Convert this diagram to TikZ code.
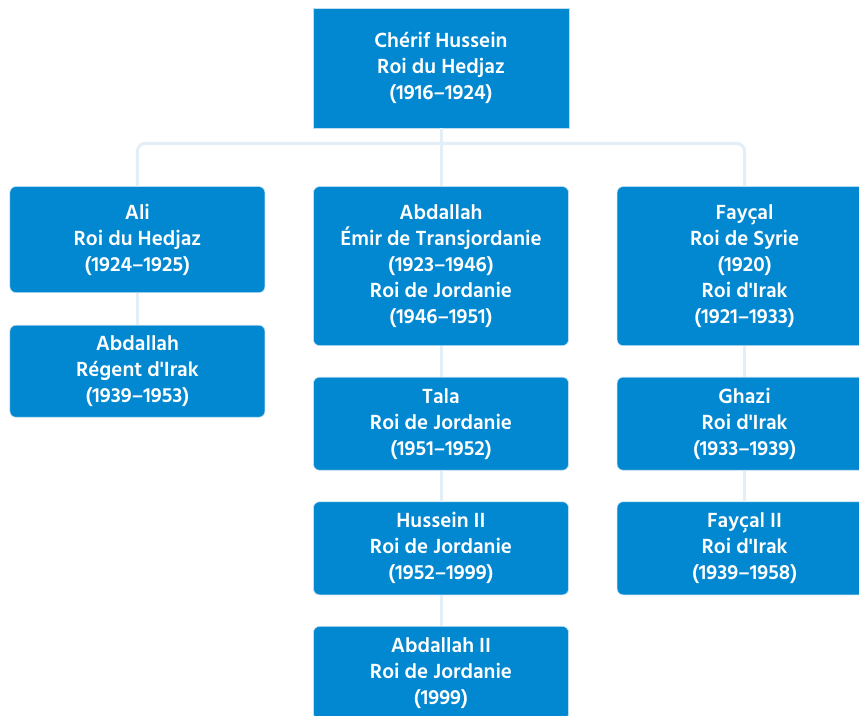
\documentclass[tikz,border=0pt]{standalone}
\usepackage{fontspec}
\setmainfont{Hind Siliguri}
\usetikzlibrary{positioning}

\definecolor{bleuboite}{HTML}{0288D1}
\definecolor{bordboite}{HTML}{BFDDF0}
\definecolor{bleulien}{HTML}{E4EEF7}

\begin{document}
\begin{tikzpicture}[x=1pt, y=-1pt,
		node distance=31pt and 48pt,
		famille/.style={rectangle, rounded corners=6pt, fill=bleuboite, draw=bordboite, line width=0.6pt,
			text=white, align=center, font=\fontsize{21}{26}\selectfont\bfseries,
			minimum width=255pt, inner sep=0pt},
		lien/.style={draw=bleulien, line width=3pt}]
		\clip (0,0) rectangle (859,715);
		\fill[white] (0,0) rectangle (859,715);

		% Fondateur
		\node[famille, rounded corners=0pt, minimum width=256pt, minimum height=120pt] (hussein) at (441,68)
			{Chérif Hussein\\Roi du Hedjaz\\(1916--1924)};

		% Fils (branche centrale)
		\node[famille, minimum height=159pt, below=58pt of hussein] (abdallah) {Abdallah\\Émir de Transjordanie\\(1923--1946)\\Roi de Jordanie\\(1946--1951)};
		\node[famille, minimum height=93pt, below=of abdallah] (tala) {Tala\\Roi de Jordanie\\(1951--1952)};
		\node[famille, minimum height=93pt, below=of tala] (husseinII) {Hussein II\\Roi de Jordanie\\(1952--1999)};
		\node[famille, minimum height=93pt, below=of husseinII] (abdallahII) {Abdallah II\\Roi de Jordanie\\(1999)};

		% Branche gauche
		\node[famille, minimum height=106pt, left=of abdallah.north west, anchor=north east] (ali) {Ali\\Roi du Hedjaz\\(1924--1925)};
		\node[famille, minimum height=92pt, below=32pt of ali] (regent) {Abdallah\\Régent d\textquotesingle Irak\\(1939--1953)};

		% Branche droite
		\node[famille, minimum height=159pt, right=of abdallah] (faycal) {Fayçal\\Roi de Syrie\\(1920)\\Roi d\textquotesingle Irak\\(1921--1933)};
		\node[famille, minimum height=93pt, below=of faycal] (ghazi) {Ghazi\\Roi d\textquotesingle Irak\\(1933--1939)};
		\node[famille, minimum height=93pt, below=of ghazi] (faycalII) {Fayçal II\\Roi d\textquotesingle Irak\\(1939--1958)};

		% Liens
		\coordinate (jonction) at ([yshift=-15pt]hussein.south);
		\draw[lien] (hussein.south) -- (abdallah.north);
		\draw[lien, rounded corners=8pt] (ali.north) |- (jonction) -| (faycal.north);
		\draw[lien] (ali.south) -- (regent.north);
		\draw[lien] (abdallah.south) -- (tala.north);
		\draw[lien] (tala.south) -- (husseinII.north);
		\draw[lien] (husseinII.south) -- (abdallahII.north);
		\draw[lien] (faycal.south) -- (ghazi.north);
		\draw[lien] (ghazi.south) -- (faycalII.north);
	\end{tikzpicture}
\end{document}
